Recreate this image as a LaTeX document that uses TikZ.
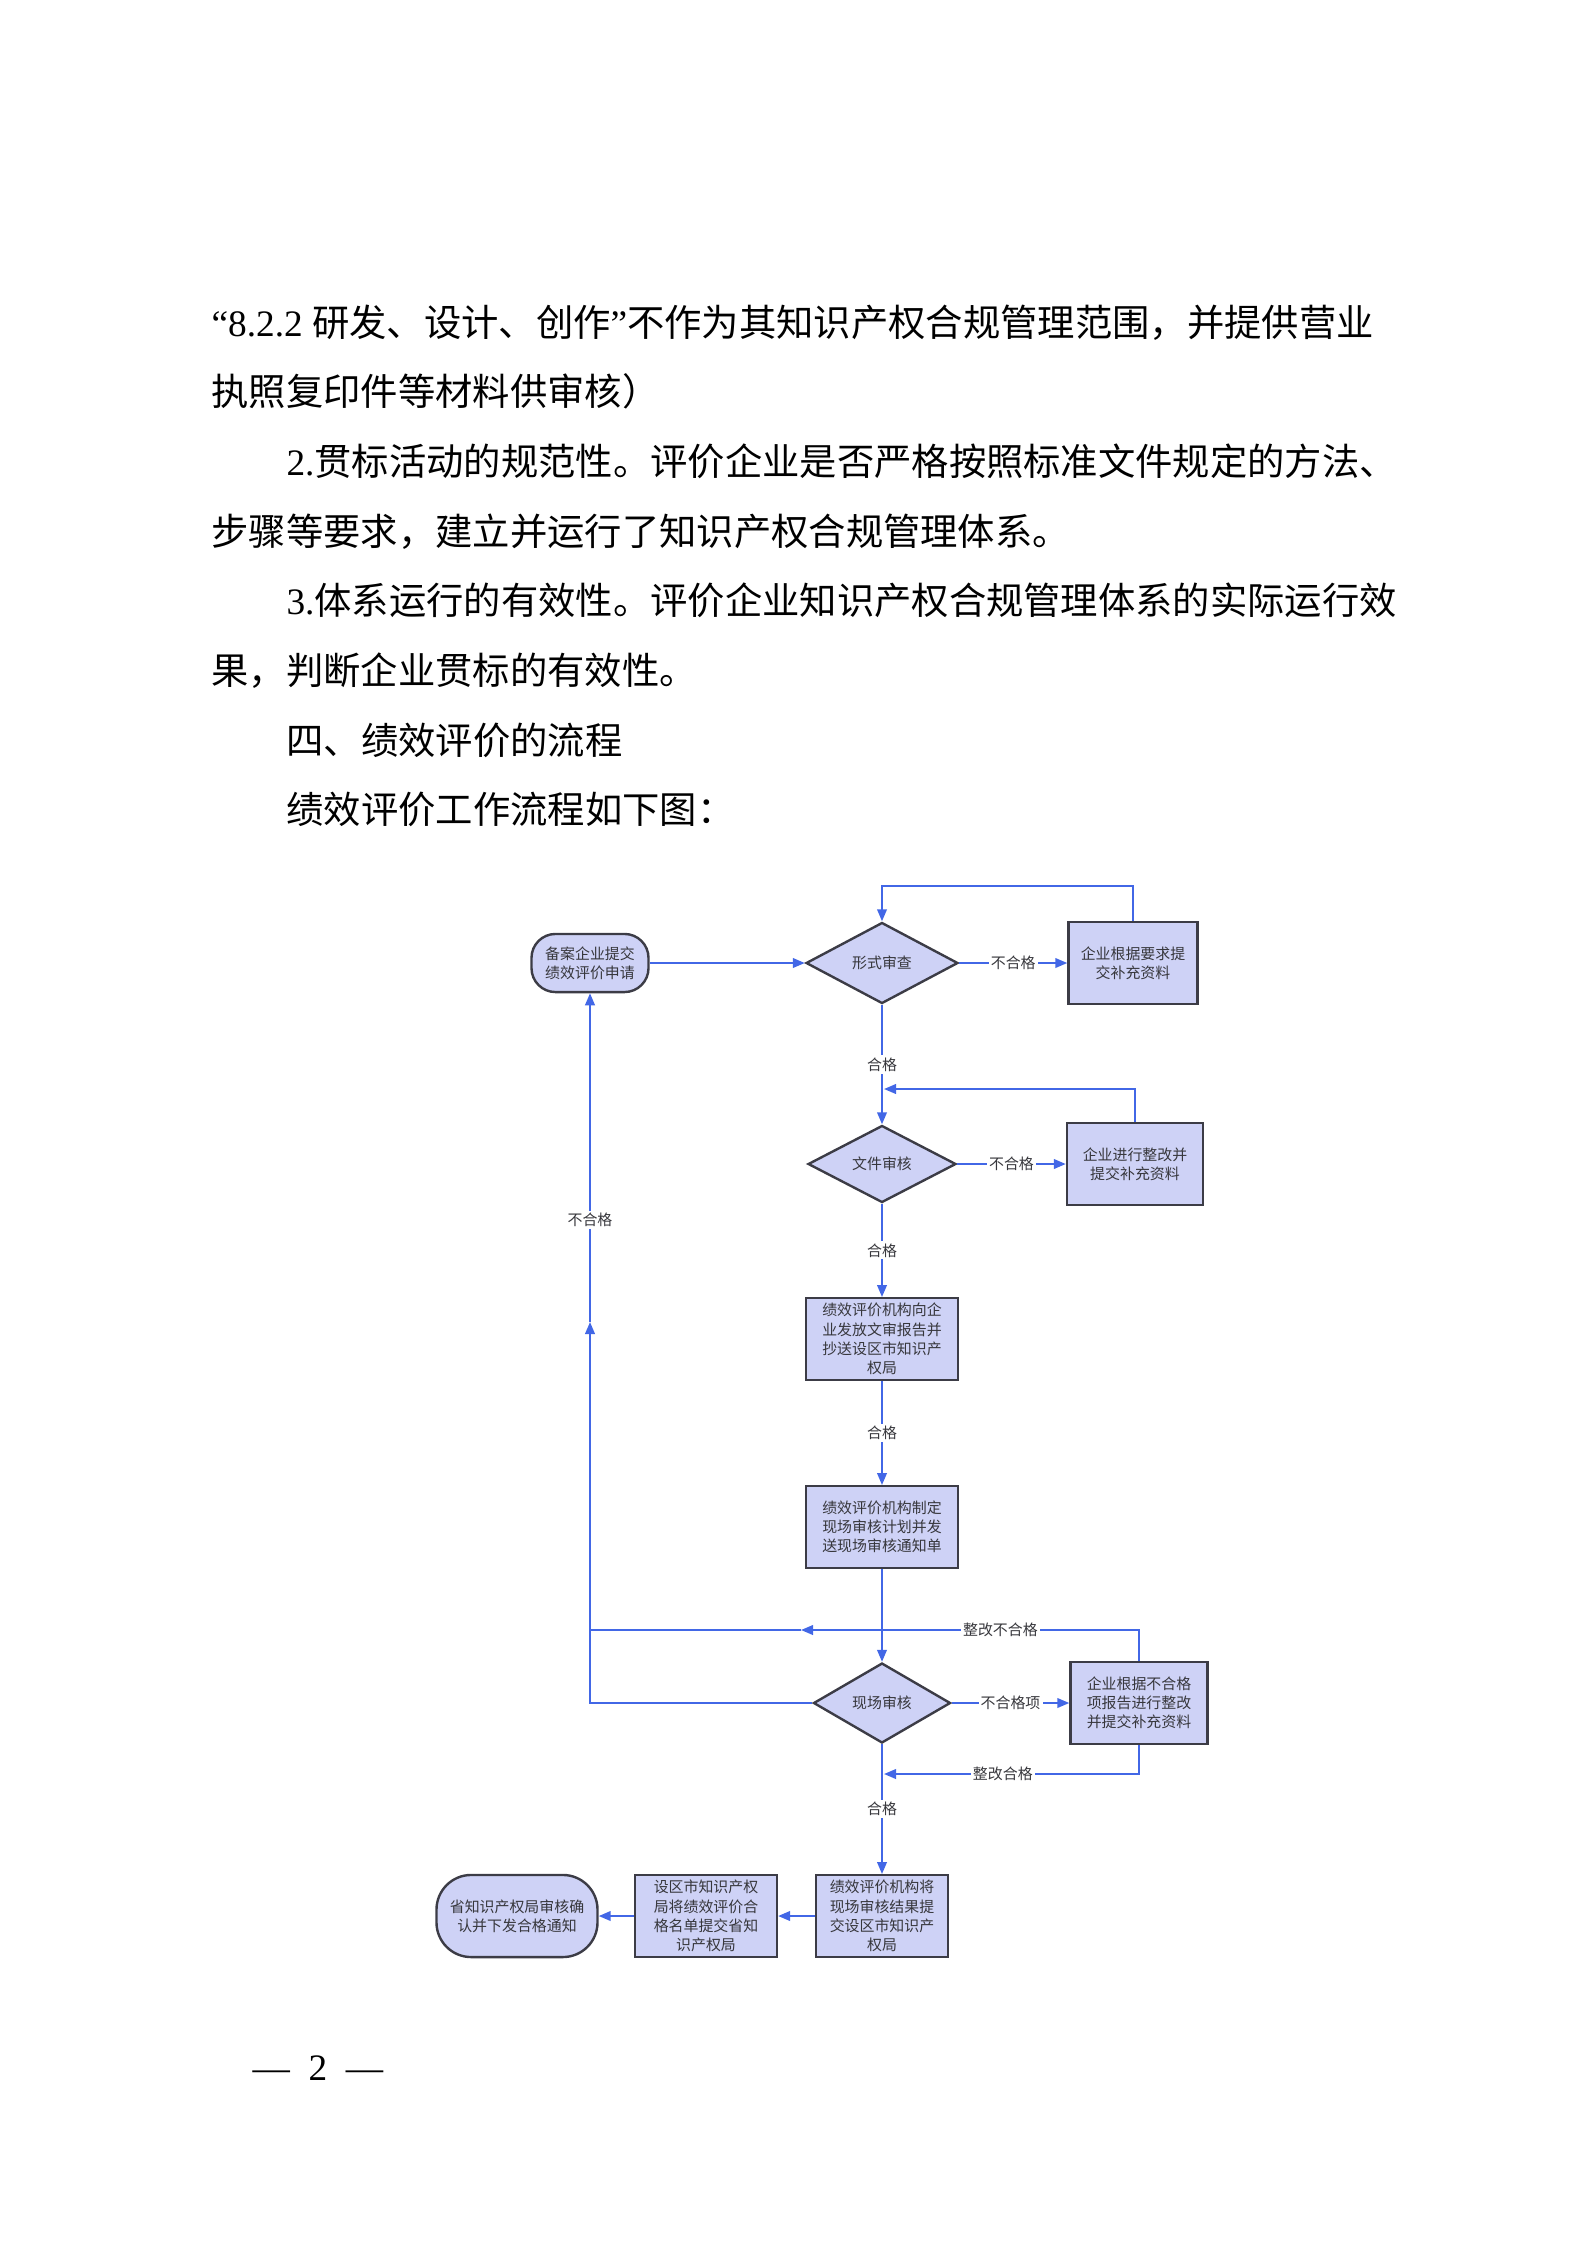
\documentclass[tikz,border=0pt]{standalone}
\usepackage{fontspec}
\setmainfont{Liberation Serif}
\newfontfamily\cjk{Noto Sans CJK SC}
\usetikzlibrary{shapes.geometric,arrows.meta}
\definecolor{flowblue}{RGB}{66,103,230}
\definecolor{boxfill}{RGB}{206,210,246}
\definecolor{boxline}{RGB}{60,60,70}
\definecolor{labgray}{RGB}{55,55,60}

\begin{document}
\begin{tikzpicture}[x=0.3751pt,y=-0.3751pt,
  para/.style={anchor=base west,inner sep=0pt,font=\cjk\fontsize{14}{14}\selectfont},
  flowbox/.style={draw=boxline,line width=0.9pt,fill=boxfill,text=labgray,align=center,inner sep=0pt,font=\cjk\fontsize{5.6}{7.2}\selectfont},
  proc/.style={flowbox,rectangle,minimum height=30.6pt},
  check/.style={flowbox,diamond,minimum width=57pt,minimum height=30.4pt},
  term/.style={flowbox,rectangle},
  conn/.style={draw=flowblue,line width=0.75pt},
  conna/.style={conn,-{Triangle[length=4.5pt,width=3.6pt]}},
  lab/.style={fill=white,text=labgray,inner sep=0.8pt,font=\cjk\fontsize{5.6}{7}\selectfont}]
\useasboundingbox (0,0) rectangle (1587,2245);

% text above the chart
\foreach \x/\t [count=\i from 0] in {
  211/{{\rmfamily “8.2.2 }研发、设计、创作{\rmfamily ”}不作为其知识产权合规管理范围，并提供营业},
  211/{执照复印件等材料供审核）},
  286/{{\rmfamily 2.}贯标活动的规范性。评价企业是否严格按照标准文件规定的方法、},
  211/{步骤等要求，建立并运行了知识产权合规管理体系。},
  286/{{\rmfamily 3.}体系运行的有效性。评价企业知识产权合规管理体系的实际运行效},
  211/{果，判断企业贯标的有效性。},
  286/{四、绩效评价的流程},
  286/{绩效评价工作流程如下图：}}{
  \node[para] (line\i) at (\x,336+69.7*\i) {\t};
}

% chart nodes
\node[term,minimum width=43.9pt,minimum height=21.8pt,rounded corners=9pt] (apply) at (590,963) {备案企业提交\\绩效评价申请};
\node[check] (formchk) at (882,963) {形式审查};
\node[proc,minimum width=48.4pt] (supp1) at (1133,963) {企业根据要求提\\交补充资料};
\node[check,minimum width=55.5pt,minimum height=28.9pt] (docchk) at (882,1164) {文件审核};
\node[proc,minimum width=51pt] (supp2) at (1135,1164) {企业进行整改并\\提交补充资料};
\node[proc,minimum width=57pt] (report) at (882,1339) {绩效评价机构向企\\业发放文审报告并\\抄送设区市知识产\\权局};
\node[proc,minimum width=57pt] (plan) at (882,1527) {绩效评价机构制定\\现场审核计划并发\\送现场审核通知单};
\node[check,minimum width=51.4pt,minimum height=30pt] (sitechk) at (882,1703) {现场审核};
\node[proc,minimum width=51.4pt] (rectify) at (1139,1703) {企业根据不合格\\项报告进行整改\\并提交补充资料};
\node[proc,minimum width=49.6pt] (result) at (882,1916) {绩效评价机构将\\现场审核结果提\\交设区市知识产\\权局};
\node[proc,minimum width=53.2pt] (list) at (706,1916) {设区市知识产权\\局将绩效评价合\\格名单提交省知\\识产权局};
\node[term,minimum width=60.4pt,minimum height=30.8pt,rounded corners=13pt] (notice) at (517,1916) {省知识产权局审核确\\认并下发合格通知};

\coordinate (back1) at (884,1089);
\coordinate (back2) at (884,1774);
\coordinate (fail1) at (801,1630);
\coordinate (fail2) at (590,1630);
\coordinate (left1) at (590,1703);
\coordinate (left2) at (590,1322);

% connectors
\draw[conna] (apply) -- (formchk);
\draw[conna] (formchk) -- node[lab] {不合格} (supp1);
\draw[conna] (supp1.north) -- ++(0,-35) -| (formchk.north);
\draw[conna] (formchk) -- node[lab] {合格} (docchk);
\draw[conna] (supp2.north) |- (back1);
\draw[conna] (docchk) -- node[lab] {不合格} (supp2);
\draw[conna] (docchk) -- node[lab] {合格} (report);
\draw[conna] (report) -- node[lab] {合格} (plan);
\draw[conna] (plan) -- (sitechk);
\draw[conna] (sitechk) -- node[lab] {不合格项} (rectify);
\draw[conna] (rectify.north) |- node[lab,pos=0.705] {整改不合格} (fail1);
\draw[conn] (fail1) -- (fail2);
\draw[conna] (rectify.south) |- node[lab,pos=0.767] {整改合格} (back2);
\draw[conna] (sitechk.west) -- (left1) -- (left2);
\draw[conna] (left2) -- node[lab,pos=0.31] {不合格} (apply.south);
\draw[conna] (sitechk) -- node[lab] {合格} (result);
\draw[conna] (result) -- (list);
\draw[conna] (list) -- (notice);

% page number
\node[anchor=base west,inner sep=0pt,font=\fontsize{14}{14}\selectfont] (pagenum) at (252,2080) {—\hspace{7pt}2\hspace{7pt}—};
\end{tikzpicture}
\end{document}
